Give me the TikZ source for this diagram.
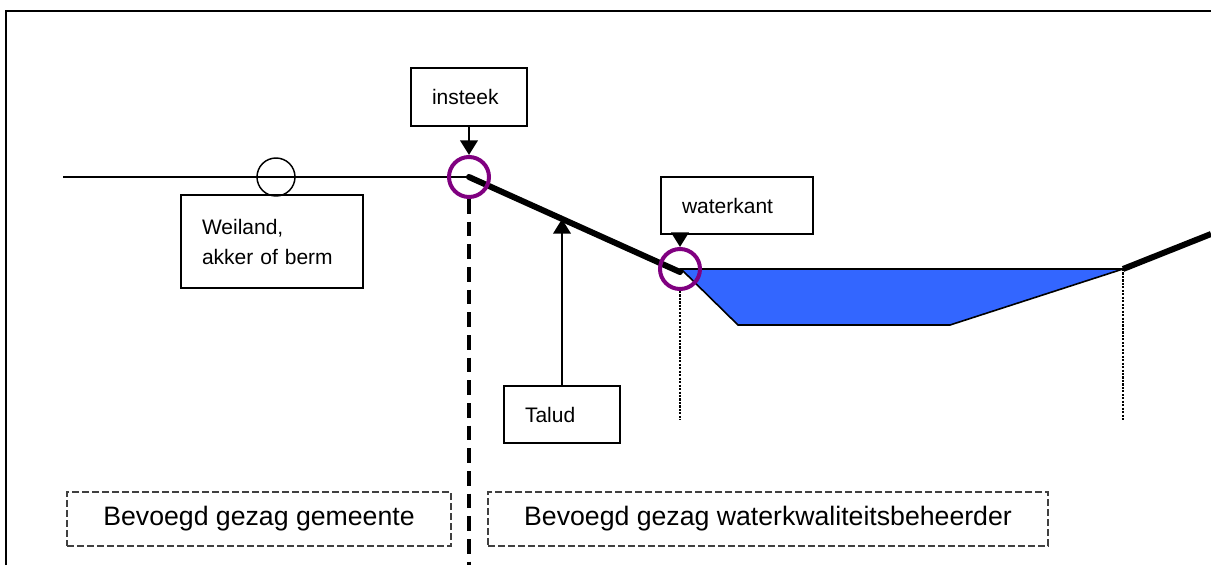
\documentclass[tikz,border=0pt]{standalone}
\usepackage{fontspec}
\setmainfont{Liberation Sans}
\usetikzlibrary{arrows.meta}
\definecolor{waterblue}{RGB}{51,102,255}
\definecolor{ringpurple}{RGB}{128,0,128}

\begin{document}
\begin{tikzpicture}[x=0.75pt,y=0.75pt,yscale=-1,xscale=1,
	labelbox/.style={draw,line width=1pt,inner xsep=15.75pt,inner ysep=0pt,align=left,font=\fontsize{15.75}{22.5}\selectfont},
	zonebox/.style={draw=black!75,line width=1pt,dash pattern=on 5pt off 2.5pt,inner sep=0pt,minimum height=40.5pt,font=\fontsize{20}{24}\selectfont},
	ring/.style={circle,draw=ringpurple,line width=3pt,minimum size=30pt,inner sep=0pt},
	pointer/.style={line width=2.2pt,-{Triangle[length=11pt,width=13pt]}}]
	\useasboundingbox (0,0) rectangle (1211,565);
	\draw [line width=1.1pt] (6,565) -- (6,11) -- (1211,11) ;

	\coordinate (kruin) at (469,177);
	\coordinate (teen) at (680,272);
	\coordinate (oever) at (1123,269);
	\coordinate (taludtop) at (562,219);

	\filldraw [fill=waterblue,line width=1.2pt] (681,269) -- (oever) -- (950,325) -- (738,325) -- cycle ;
	\draw [line width=1.1pt] (63,177) -- (kruin) ;
	\draw [line width=4.5pt,line cap=round] (kruin) -- (teen) ;
	\draw [line width=4.5pt] (oever) -- (1211,234) ;

	\node [circle,draw,line width=1.1pt,minimum size=28.5pt,inner sep=0pt] (grasring) at (276,177) {};
	\node [ring] (kruinring) at (469,177) {};
	\node [ring] (teenring) at (680,269) {};

	\node [labelbox,text width=55.5pt,minimum height=43.5pt] (insteek) at (469,97) {insteek};
	\node [labelbox,text width=82.5pt,minimum height=42.75pt] (waterkant) at (737,205.5) {waterkant};
	\node [labelbox,text width=55.5pt,minimum height=42.75pt] (talud) at (562,414.5) {Talud};
	\node [labelbox,text width=105pt,minimum height=69.75pt] (weiland) at (272,241.5) {Weiland,\\akker of berm};

	\draw [pointer] (insteek.south) -- (kruinring.north) ;
	\draw [pointer] (teenring.north |- waterkant.south) -- (teenring.north) ;
	\draw [pointer] (talud.north) -- (taludtop) ;

	\draw [line width=2.4pt,dash pattern=on 11pt off 6pt] (kruinring.south) -- (469,565) ;
	\draw [line width=1.6pt,dash pattern=on 1.6pt off 1pt] (teenring.south) -- (680,420) ;
	\draw [line width=1.6pt,dash pattern=on 1.6pt off 1pt] (oever) -- (1123,420) ;

	\node [zonebox,minimum width=288pt] (gemeente) at (259,519) {Bevoegd gezag gemeente};
	\node [zonebox,minimum width=420pt] (beheerder) at (768,519) {Bevoegd gezag waterkwaliteitsbeheerder};
\end{tikzpicture}
\end{document}
